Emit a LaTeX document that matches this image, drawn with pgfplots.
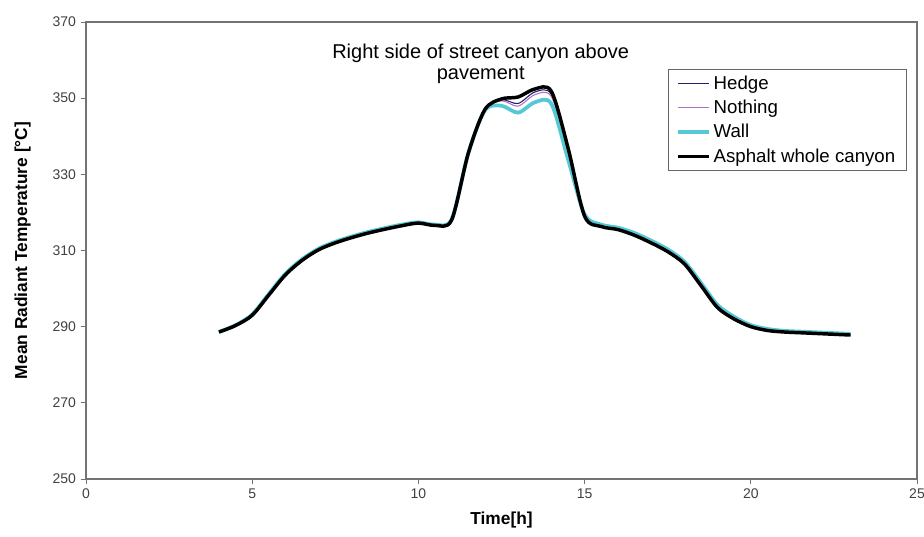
\documentclass[border=0pt]{standalone}
\usepackage{fontspec}
\setmainfont{Liberation Sans}
\usepackage{pgfplots}
\usepackage{pgfplotstable}
\pgfplotsset{compat=1.18}
\definecolor{hedgecol}{HTML}{22226E}
\definecolor{nothingcol}{HTML}{B070C8}
\definecolor{wallcol}{HTML}{55C8D5}

\pgfplotstableread{
t v
4.0 288.6
4.5 290.3
5.0 293.0
5.5 298.3
6.0 303.6
6.5 307.4
7.0 310.2
7.5 312.0
8.0 313.4
8.5 314.6
9.0 315.6
9.5 316.5
10.0 317.2
10.5 316.6
11.0 318.0
11.5 335.5
12.0 347.0
12.5 349.6
13.0 348.6
13.5 351.6
14.0 351.0
14.5 336.5
15.0 319.0
15.5 316.4
16.0 315.6
16.5 314.1
17.0 312.1
17.5 309.8
18.0 306.6
18.5 300.9
19.0 295.1
19.5 292.1
20.0 290.1
20.5 289.1
21.0 288.7
21.5 288.5
22.0 288.3
22.5 288.1
23.0 287.9
}\hedge

\pgfplotstableread{
t v
4.0 288.6
4.5 290.3
5.0 293.0
5.5 298.3
6.0 303.6
6.5 307.4
7.0 310.2
7.5 312.0
8.0 313.4
8.5 314.6
9.0 315.6
9.5 316.5
10.0 317.2
10.5 316.6
11.0 318.0
11.5 335.5
12.0 347.0
12.5 349.3
13.0 347.9
13.5 350.9
14.0 350.4
14.5 336.0
15.0 319.1
15.5 316.5
16.0 315.7
16.5 314.2
17.0 312.2
17.5 309.9
18.0 306.7
18.5 301.0
19.0 295.2
19.5 292.2
20.0 290.2
20.5 289.2
21.0 288.8
21.5 288.5
22.0 288.3
22.5 288.1
23.0 287.9
}\nothing

\pgfplotstableread{
t v
4.0 288.6
4.5 290.4
5.0 293.2
5.5 298.6
6.0 303.9
6.5 307.7
7.0 310.5
7.5 312.3
8.0 313.7
8.5 314.9
9.0 315.9
9.5 316.8
10.0 317.4
10.5 316.8
11.0 318.2
11.5 335.5
12.0 346.8
12.5 348.0
13.0 346.2
13.5 348.9
14.0 348.5
14.5 334.0
15.0 319.5
15.5 316.8
16.0 316.0
16.5 314.6
17.0 312.6
17.5 310.3
18.0 307.1
18.5 301.5
19.0 295.7
19.5 292.6
20.0 290.4
20.5 289.4
21.0 288.9
21.5 288.7
22.0 288.5
22.5 288.3
23.0 288.1
}\wall

\pgfplotstableread{
t v
4.0 288.6
4.5 290.3
5.0 293.0
5.5 298.3
6.0 303.6
6.5 307.4
7.0 310.2
7.5 312.0
8.0 313.4
8.5 314.6
9.0 315.6
9.5 316.5
10.0 317.2
10.5 316.6
11.0 318.0
11.5 335.5
12.0 347.0
12.5 349.8
13.0 350.3
13.5 352.4
14.0 351.8
14.5 337.0
15.0 319.0
15.5 316.3
16.0 315.5
16.5 314.0
17.0 312.0
17.5 309.7
18.0 306.5
18.5 300.8
19.0 295.0
19.5 292.0
20.0 290.0
20.5 289.0
21.0 288.6
21.5 288.4
22.0 288.2
22.5 288.0
23.0 287.8
}\asphalt

\begin{document}
\begin{tikzpicture}
\begin{axis}[
  width=623.25pt, height=342.75pt, scale only axis,
  xmin=0, xmax=25, ymin=250, ymax=370,
  xtick={0,5,...,25}, ytick={250,270,...,370},
  tick pos=left, tick align=outside, major tick length=4pt,
  axis line style={draw=black!55, line width=0.8pt},
  every tick/.style={black!55, line width=0.6pt},
  /pgf/number format/assume math mode=true,
  ticklabel style={font=\fontsize{10.5}{12}\selectfont, color=black!75},
  xlabel={Time[h]},
  ylabel={Mean Radiant Temperature [°C]},
  label style={font=\fontsize{13}{15}\selectfont\bfseries},
  xlabel style={at={(axis description cs:0.5,-0.0904)}, anchor=center},
  ylabel style={at={(axis description cs:-0.0762,0.5)}, anchor=center},
  legend style={at={(axis description cs:0.987,0.897)}, anchor=north east,
    draw=black!60, font=\fontsize{14}{16}\selectfont, row sep=2.5pt,
    inner xsep=6pt, inner ysep=3pt},
  legend cell align=left,
  legend image code/.code={\draw[#1] (0pt,0pt) -- (23pt,0pt);},
]
\addplot[hedgecol, line width=0.8pt, smooth] table[x=t,y=v] {\hedge};
\addlegendentry{Hedge}
\addplot[nothingcol, line width=0.8pt, smooth] table[x=t,y=v] {\nothing};
\addlegendentry{Nothing}
\addplot[wallcol, line width=2.8pt, smooth] table[x=t,y=v] {\wall};
\addlegendentry{Wall}
\addplot[black, line width=2.6pt, smooth] table[x=t,y=v] {\asphalt};
\addlegendentry{Asphalt whole canyon}
\node[align=center, anchor=north, font=\fontsize{15}{15.5}\selectfont] at (axis description cs:0.475,0.962) {Right side of street canyon above\\pavement};
\end{axis}
\pgfresetboundingbox
\path[use as bounding box] ([xshift=-64.5pt,yshift=-43.5pt]current axis.south west) rectangle ([xshift=5.25pt,yshift=16.5pt]current axis.north east);
\end{tikzpicture}
\end{document}
